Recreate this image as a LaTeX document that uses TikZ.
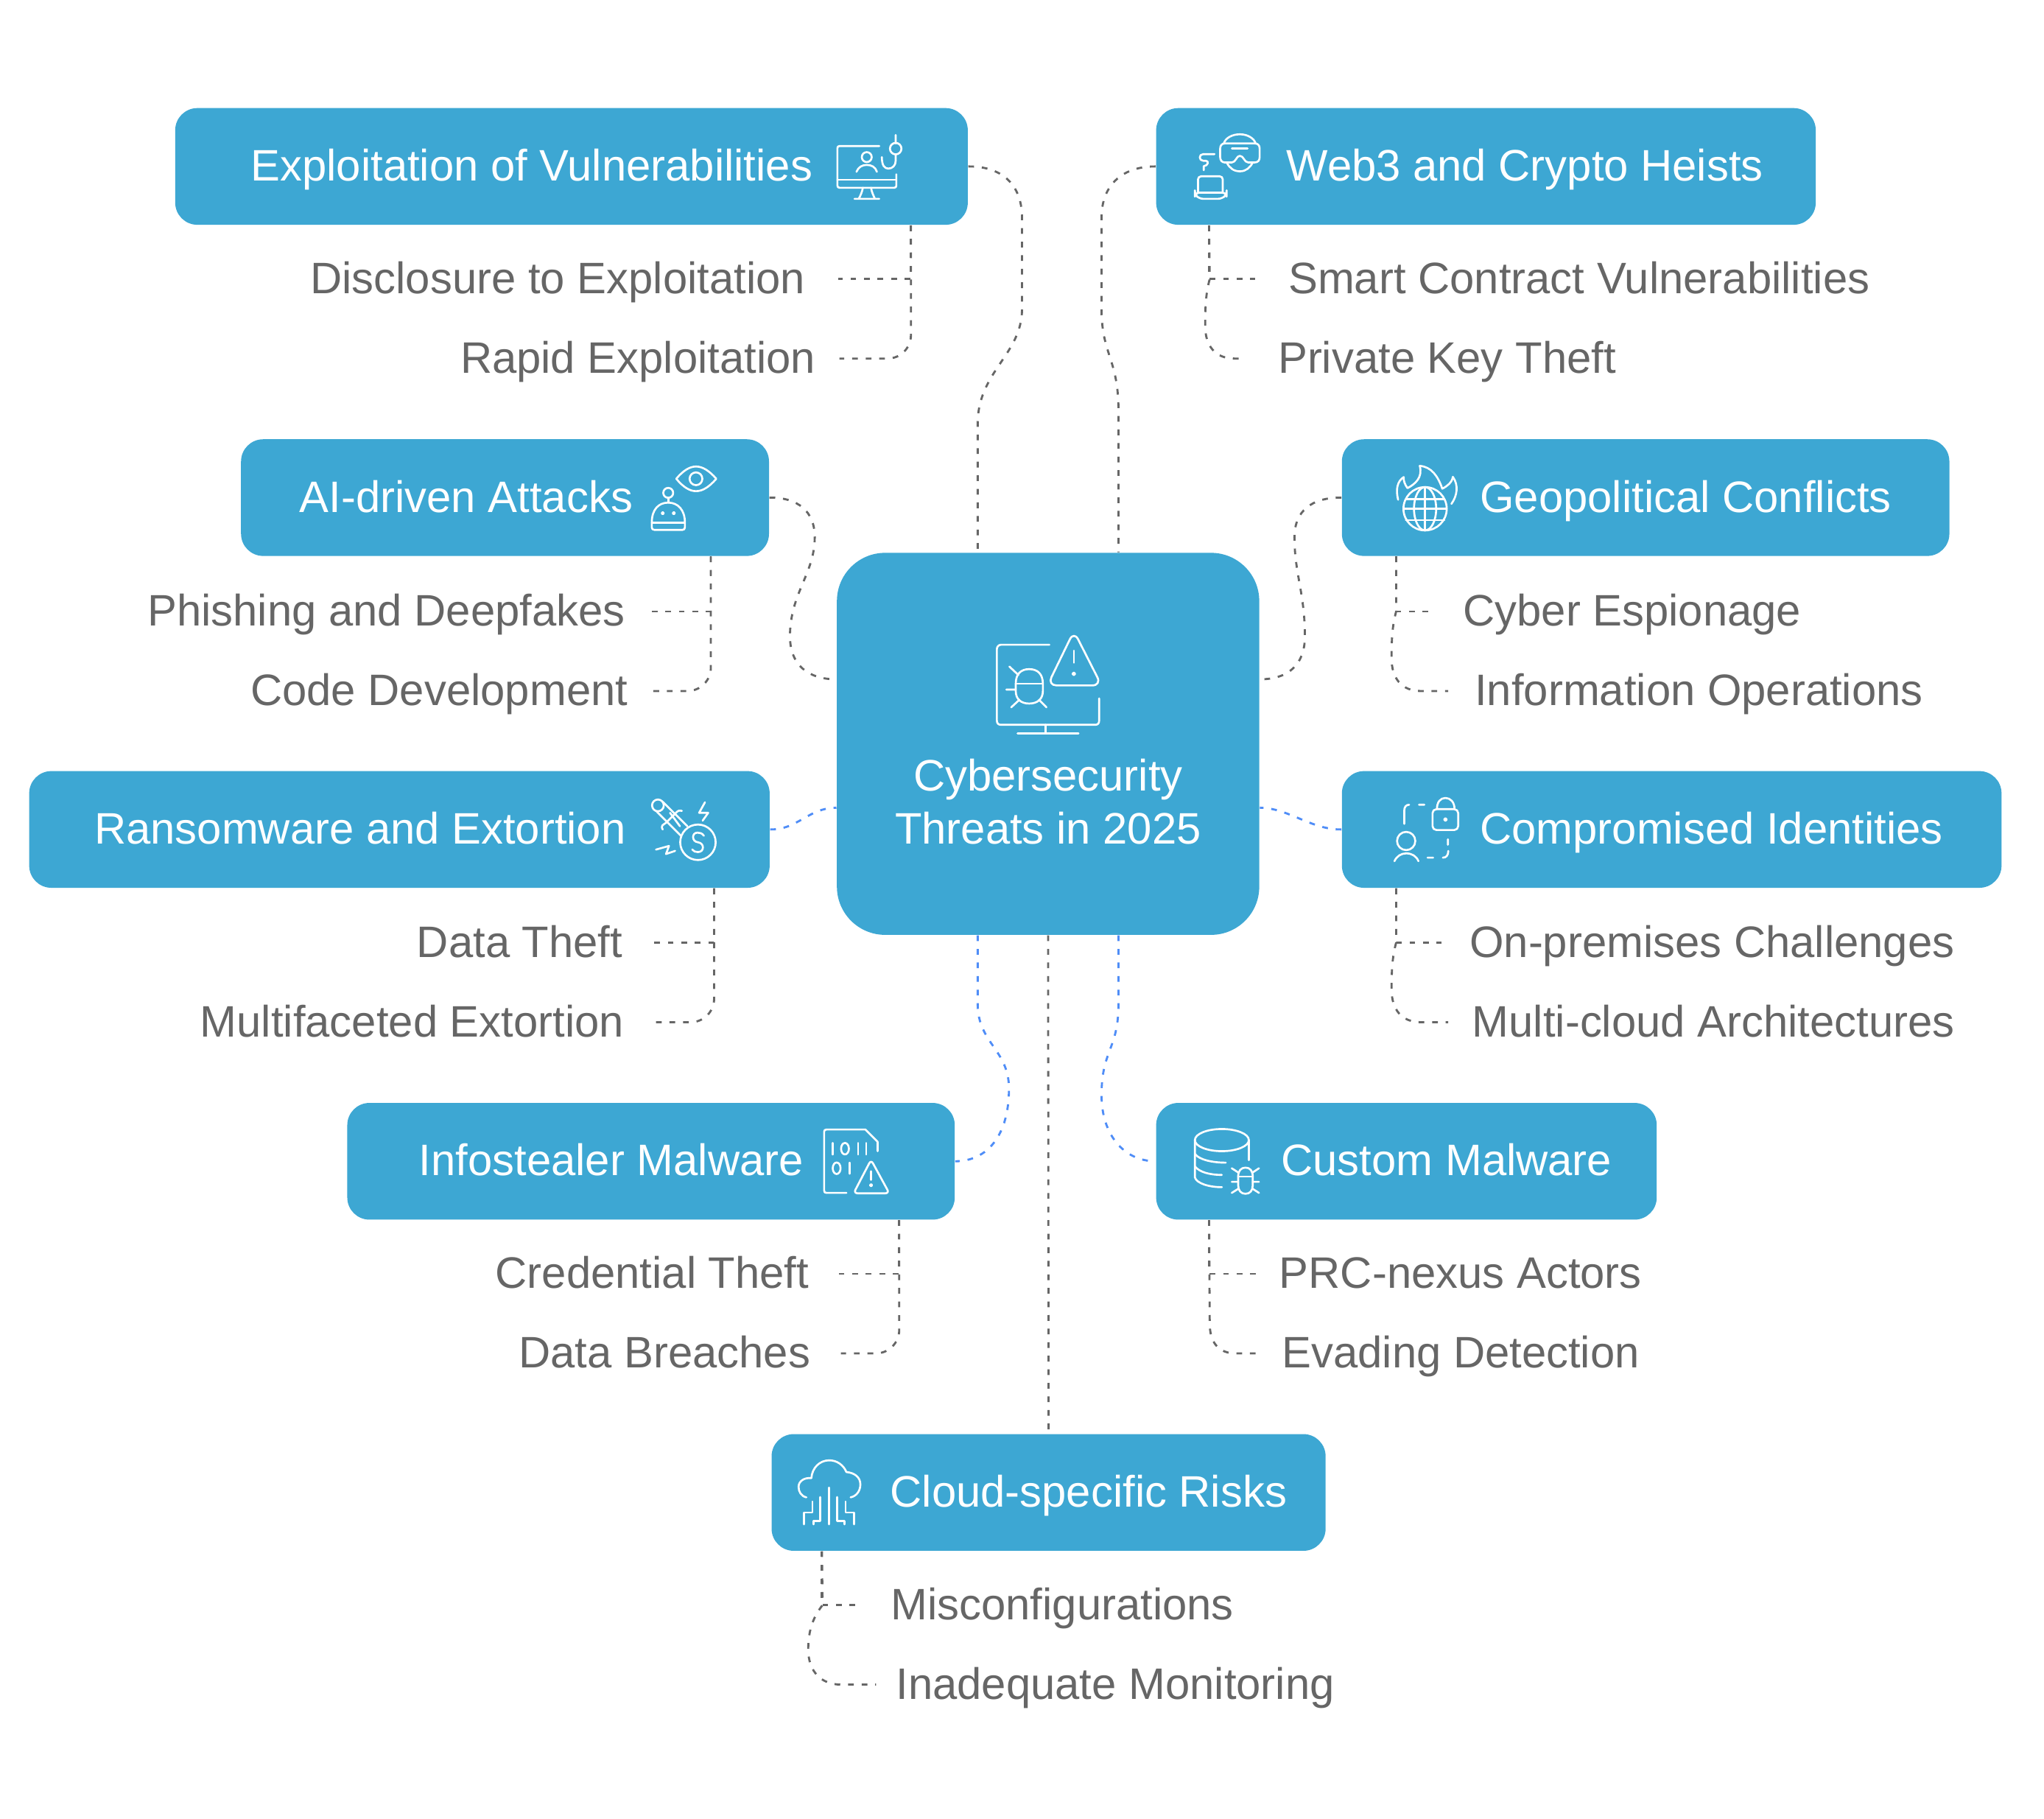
\documentclass[tikz,border=0pt]{standalone}
\usepackage{fontspec}
\usepackage{xcolor}
\setmainfont{Liberation Sans}
\definecolor{boxblue}{RGB}{61,167,211}
\definecolor{inkgray}{RGB}{102,102,102}
\definecolor{linkblue}{RGB}{79,141,247}

\begin{document}
\begin{tikzpicture}[
    x=0.5pt, y=-0.5pt,
    hub/.style={rectangle, fill=boxblue, text=white, rounded corners=18.5pt, minimum width=162pt, minimum height=146.5pt, inner sep=0pt, align=center, font=\fontsize{16.9}{20.5}\selectfont},
    topic/.style 2 args={rectangle, fill=boxblue, text=white, rounded corners=8.5pt, anchor=north west, minimum height=44.75pt, inner sep=0pt, align=left, text width=#1, text height=13.5pt, text depth=2.4pt, font=\fontsize{16.9}{20.5}\selectfont, execute at begin node={\spaceskip=0pt\xspaceskip=0pt\hspace*{#2}}},
    leaf/.style={text=inkgray, inner ysep=0pt, text height=13.5pt, text depth=2.4pt, font=\fontsize{16.9}{20.5}\selectfont},
    link/.style={draw=inkgray, line width=0.8pt, dash pattern=on 2.2pt off 3pt},
    blink/.style={link, draw=linkblue},
    icon/.style={draw=white, line width=0.75pt, line cap=round, line join=round}
]
\useasboundingbox (0,0) rectangle (1568,1395);

% Central box
\node[hub] (hub) at (804,570.5) {\mbox{}\\[36pt]Cybersecurity\\Threats in 2025};

% Topic boxes
\node[topic={304pt}{29pt}] (exploit) at (134,82.5) {Exploitation of Vulnerabilities};
\node[topic={253pt}{50pt}] (web3) at (886.5,82.5) {Web3 and Crypto Heists};
\node[topic={202.5pt}{22.5pt}] (aidriven) at (184.5,336.5) {AI-driven Attacks};
\node[topic={233pt}{53pt}] (geo) at (1029,336.5) {Geopolitical Conflicts};
\node[topic={284pt}{25pt}] (ransom) at (22,591) {Ransomware and Extortion};
\node[topic={253pt}{53pt}] (identity) at (1029,591) {Compromised Identities};
\node[topic={233pt}{27.5pt}] (infostealer) at (266,845.5) {Infostealer Malware};
\node[topic={192pt}{48pt}] (custom) at (886.5,845.5) {Custom Malware};
\node[topic={212.5pt}{45.5pt}] (cloud) at (591.5,1099.5) {Cloud-specific Risks};

% Leaves, left side
\node[leaf, anchor=east, inner xsep=12.5pt] (disclosure) at (643,214) {Disclosure to Exploitation};
\node[leaf, anchor=east, inner xsep=9pt] (rapid) at (644,275) {Rapid Exploitation};
\node[leaf, anchor=east, inner xsep=10pt] (phishing) at (500,469) {Phishing and Deepfakes};
\node[leaf, anchor=east, inner xsep=9.5pt] (codedev) at (501,530) {Code Development};
\node[leaf, anchor=east, inner xsep=11.5pt] (datatheft) at (501,723) {Data Theft};
\node[leaf, anchor=east, inner xsep=12pt] (multifaceted) at (503,784) {Multifaceted Extortion};
\node[leaf, anchor=east, inner xsep=11pt] (credential) at (643,977) {Credential Theft};
\node[leaf, anchor=east, inner xsep=11.5pt] (breaches) at (645,1038) {Data Breaches};

% Leaves, right side
\node[leaf, anchor=west, inner xsep=12.5pt] (smart) at (963,214) {Smart Contract Vulnerabilities};
\node[leaf, anchor=west, inner xsep=12pt] (privkey) at (956,275) {Private Key Theft};
\node[leaf, anchor=west, inner xsep=12.5pt] (espionage) at (1097,469) {Cyber Espionage};
\node[leaf, anchor=west, inner xsep=10pt] (infoops) at (1111,530) {Information Operations};
\node[leaf, anchor=west, inner xsep=10.5pt] (onprem) at (1106,723) {On-premises Challenges};
\node[leaf, anchor=west, inner xsep=9pt] (multicloud) at (1111,784) {Multi-cloud Architectures};
\node[leaf, anchor=west, inner xsep=8pt] (prc) at (965,977) {PRC-nexus Actors};
\node[leaf, anchor=west, inner xsep=9.5pt] (evading) at (964,1038) {Evading Detection};
\node[leaf, anchor=west, inner xsep=13pt] (misconfig) at (657,1231) {Misconfigurations};
\node[leaf, anchor=west, inner xsep=7.5pt] (monitoring) at (672,1292) {Inadequate Monitoring};

% Links from the central box
\draw[link] (exploit.east) .. controls (768,127.5) and (784,141) .. (784,167) -- (784,237) .. controls (784,272) and (750,285) .. (750,325) -- ([xshift=-27pt]hub.north);
\draw[link] (web3.west) .. controls (862,127.5) and (845,141) .. (845,167) -- (845,237) .. controls (845,272) and (858,275) .. (858,315) -- ([xshift=27pt]hub.north);
\draw[link] (aidriven.east) .. controls (612,381.5) and (625,392) .. (625,412) .. controls (625,440) and (606,455) .. (606,488) .. controls (606,510) and (620,521) .. ([yshift=24.75pt]hub.west);
\draw[link] (geo.west) .. controls (1006,381.5) and (993,392) .. (993,412) .. controls (993,440) and (1001,455) .. (1001,488) .. controls (1001,510) and (988,521) .. ([yshift=24.75pt]hub.east);
\draw[blink] (ransom.east) .. controls (612,636.5) and (620,619.5) .. ([yshift=-24.5pt]hub.west);
\draw[blink] (identity.west) .. controls (1006,636.5) and (988,619.5) .. ([yshift=-24.5pt]hub.east);
\draw[blink] ([xshift=-27pt]hub.south) -- (750,770) .. controls (750,800) and (774,805) .. (774,835) .. controls (774,870) and (758,890.5) .. (infostealer.east);
\draw[blink] ([xshift=27pt]hub.south) -- (858,770) .. controls (858,805) and (845,805) .. (845,840) .. controls (845,870) and (862,890.5) .. (custom.west);
\draw[link] (hub.south) -- (cloud.north);

% Links to the leaves, left side
\draw[link] ([xshift=-22pt]exploit.south east) |- (disclosure.east);
\draw[link, rounded corners=9pt] ([xshift=-22pt]exploit.south east) |- (rapid.east);
\draw[link] ([xshift=-22.5pt]aidriven.south east) |- (phishing.east);
\draw[link, rounded corners=9pt] ([xshift=-22.5pt]aidriven.south east) |- (codedev.east);
\draw[link] ([xshift=-21.5pt]ransom.south east) |- (datatheft.east);
\draw[link, rounded corners=9pt] ([xshift=-21.5pt]ransom.south east) |- (multifaceted.east);
\draw[link] ([xshift=-21.5pt]infostealer.south east) |- (credential.east);
\draw[link, rounded corners=9pt] ([xshift=-21.5pt]infostealer.south east) |- (breaches.east);

% Links to the leaves, right side
\draw[link] ([xshift=20.5pt]web3.south west) |- (smart.west);
\draw[link] ([xshift=20.5pt]web3.south west) -- (928,214) .. controls (925,225) and (924.5,235) .. (924.5,250) .. controls (924.5,265) and (932,275) .. (947,275) -- (privkey.west);
\draw[link] ([xshift=21pt]geo.south west) |- (espionage.west);
\draw[link] ([xshift=21pt]geo.south west) -- (1071,469) .. controls (1068,480) and (1067.5,490) .. (1067.5,505) .. controls (1067.5,520) and (1075,530) .. (1090,530) -- (infoops.west);
\draw[link] ([xshift=21pt]identity.south west) |- (onprem.west);
\draw[link] ([xshift=21pt]identity.south west) -- (1071,723) .. controls (1068,734) and (1067.5,744) .. (1067.5,759) .. controls (1067.5,774) and (1075,784) .. (1090,784) -- (multicloud.west);
\draw[link] ([xshift=20.5pt]custom.south west) |- (prc.west);
\draw[link] ([xshift=20.5pt]custom.south west) -- (928,1015) .. controls (928,1030) and (935,1038) .. (948,1038) -- (evading.west);
\draw[link] ([xshift=19.5pt]cloud.south west) |- (misconfig.west);
\draw[link] ([xshift=19.5pt]cloud.south west) -- (631,1231) .. controls (624,1240) and (620,1250) .. (620,1265) .. controls (620,1282) and (630,1292) .. (645,1292) -- (monitoring.west);

% Icon: central box
\draw[icon] (805,494.5) -- (768,494.5) .. controls (766,494.5) and (764.7,496) .. (764.7,498) -- (764.7,552.5) .. controls (764.7,555) and (766,555.9) .. (768,555.9) -- (840,555.9) .. controls (842,555.9) and (843.2,555) .. (843.2,552.5) -- (843.2,535.6);
\draw[icon] (802.2,555.9) -- (802.2,562.4) (780.6,562.4) -- (827.3,562.4);
\draw[icon, rounded corners=3.5pt] (823.8,484) -- (803.5,525.7) -- (845,525.7) -- cycle;
\draw[icon] (823.8,499) -- (823.8,508.3);
\draw[icon] (823.8,516.8) circle[radius=1];
\draw[icon] (779.2,524.4) .. controls (779.2,517) and (783,513.2) .. (789.5,513.2) .. controls (796,513.2) and (800,517) .. (800,524.4) -- (800,530) .. controls (800,536) and (796,539.6) .. (789.5,539.6) .. controls (783,539.6) and (779.2,536) .. (779.2,530) -- cycle;
\draw[icon] (779.2,524.4) -- (800,524.4);
\draw[icon] (774.3,511.2) -- (781.2,517.7) (772,528.9) -- (779.2,528.9) (775.7,542.5) -- (782,536.7) (802.8,542.5) -- (797,536.7);

% Icon: exploitation
\draw[icon] (674.5,112) -- (644,112) .. controls (643,112) and (642.4,112.6) .. (642.4,113.6) -- (642.4,142.4) .. controls (642.4,143.4) and (643,144) .. (644,144) -- (686,144) .. controls (687,144) and (687.6,143.4) .. (687.6,142.4) -- (687.6,133.7);
\draw[icon] (642.4,137.8) -- (687.6,137.8);
\draw[icon] (661.9,144) .. controls (661.5,147) and (660,150) .. (658.8,152.5) (668.2,144) .. controls (668.6,147) and (670,150) .. (671.2,152.5) (655.5,152.5) -- (674.5,152.5);
\draw[icon] (664.9,120.5) circle[radius=3.8];
\draw[icon] (657,131.8) .. controls (658.5,128) and (661.5,126.5) .. (664.9,126.5) .. controls (668.5,126.5) and (671.5,128) .. (672.7,131.8);
\draw[icon] (687.1,103.5) -- (687.1,110) (687.1,118.6) -- (687.1,123.3) .. controls (687.1,127) and (684.5,129.3) .. (681.5,129.3) .. controls (678.5,129.3) and (676.5,127) .. (676.5,120.5);
\draw[icon] (687.1,114) circle[radius=4.4];

% Icon: web3
\draw[icon, rounded corners=1.2pt] (919,147.8) -- (919,135.2) -- (938,135.2) -- (938,147.8);
\draw[icon, rounded corners=1.5pt] (916.6,147.8) -- (941,147.8) -- (941,149) -- (937.5,152.5) -- (920,152.5) -- (916.6,149) -- cycle;
\draw[icon] (931.7,118.2) -- (923,118.2) .. controls (919.5,118.2) and (919.5,123.3) .. (923,123.3) -- (925,123.3) .. controls (927.5,123.3) and (927,127) .. (923.4,127.5) -- (923.4,130.5);
\draw[icon] (938.8,110) .. controls (940,106) and (945,103) .. (951.1,103) .. controls (957,103) and (962,106) .. (963.2,110);
\draw[icon] (941,124.6) .. controls (943,128.5) and (946,131.4) .. (951.1,131.4) .. controls (956,131.4) and (959,128.5) .. (961,124.6);
\draw[icon] (939.5,110) -- (962.5,110) .. controls (965,110) and (966.3,111.5) .. (966.3,114) -- (966.3,120.5) .. controls (966.3,123) and (965,124.6) .. (962.5,124.6) -- (957.5,124.6) .. controls (954.5,124.6) and (954,119.5) .. (951.1,119.5) .. controls (948.5,119.5) and (948,124.6) .. (945,124.6) -- (939.5,124.6) .. controls (937.5,124.6) and (936,123) .. (936,120.5) -- (936,114) .. controls (936,111.5) and (937.5,110) .. (939.5,110) -- cycle;
\draw[icon] (945,114) -- (957,114);

% Icon: AI-driven
\draw[icon] (518.8,367.2) .. controls (524,361) and (529,357.8) .. (533.9,357.8) .. controls (539,357.8) and (544,361) .. (549.5,367.2) .. controls (544,373.5) and (539,376.7) .. (533.9,376.7) .. controls (529,376.7) and (524,373.5) .. (518.8,367.2) -- cycle;
\draw[icon] (533.9,367.2) circle[radius=4.9];
\draw[icon] (512.6,378) circle[radius=3.8];
\draw[icon] (512.6,381.9) -- (512.6,385.5);
\draw[icon] (500,400.8) .. controls (500,391) and (505,385.5) .. (512.6,385.5) .. controls (520,385.5) and (525.4,391) .. (525.4,400.8) -- (525.4,404.5) .. controls (525.4,405.7) and (524.7,406.4) .. (523.5,406.4) -- (502,406.4) .. controls (500.7,406.4) and (500,405.7) .. (500,404.5) -- cycle;
\draw[icon] (500,400.8) -- (525.4,400.8);
\draw[icon] (508.4,393.6) circle[radius=0.8] (516.9,393.6) circle[radius=0.8];

% Icon: geopolitical
\draw[icon] (1093.2,390.2) circle[radius=16.6];
\draw[icon] (1093.2,390.2) ellipse[x radius=8.5, y radius=16.6];
\draw[icon] (1093.2,373.6) -- (1093.2,406.8) (1078.4,382.7) -- (1108,382.7) (1076.6,390.2) -- (1109.8,390.2) (1078.4,398.9) -- (1108,398.9);
\draw[icon] (1072.5,383.3) .. controls (1070.5,375) and (1072,369) .. (1076.8,365.9) .. controls (1076.5,369) and (1078,372) .. (1079.7,374.4) .. controls (1086,371) and (1091.5,366) .. (1089.1,357.3) .. controls (1098,358) and (1103,365) .. (1106.4,374.8) .. controls (1110,373) and (1114,370) .. (1114.5,365.7) .. controls (1119,372) and (1118,380) .. (1113.4,386.5);

% Icon: ransomware
\draw[icon] (535.4,646) circle[radius=13.6];
\draw[icon] (540,641) .. controls (538.5,639) and (537,638.6) .. (535,638.6) .. controls (530.5,638.6) and (530.5,645.5) .. (535.4,646) .. controls (540.5,646.5) and (540.5,653.5) .. (535.4,653.5) .. controls (533.5,653.5) and (532,653) .. (531,651.5);
\draw[icon] (504.7,617.7) circle[radius=4.5];
\draw[icon] (508.4,614.9) -- (527.3,633.7) (503.7,622.4) -- (522.6,641.3);
\draw[icon] (508.4,636.2) .. controls (506.5,633) and (509,632.5) .. (511,631) -- (518,624) .. controls (520,621.5) and (521,621.5) .. (523.1,621.9);
\draw[icon] (514,623.4) -- (521.6,633.7);
\draw[icon] (540.8,615.3) -- (536.3,623.4) -- (543.3,623.4) -- (539,629.4);
\draw[icon] (503.2,651.6) -- (513.2,648.8) -- (510.9,655) -- (517.9,652.6);

% Icon: identities
\draw[icon] (1077.2,631.9) -- (1077.2,622) .. controls (1077.2,619) and (1078.5,617.2) .. (1081,617.2) (1088.5,617.2) -- (1092.7,617.2);
\draw[icon] (1110.7,643.7) -- (1110.7,647.9) (1111,652.6) .. controls (1111,656) and (1109.5,657.8) .. (1106.8,657.8) (1095.1,657.8) -- (1099.4,657.8);
\draw[icon, rounded corners=1.5pt] (1098.9,620.6) rectangle (1118.6,636.6);
\draw[icon] (1102.3,620.6) .. controls (1102.3,615) and (1105,612) .. (1108.8,612) .. controls (1112.5,612) and (1115.8,615) .. (1115.8,620.6);
\draw[icon] (1108.8,628.5) circle[radius=1];
\draw[icon] (1078.7,645) circle[radius=7];
\draw[icon] (1069.7,660.5) .. controls (1071.5,656.5) and (1075,654.5) .. (1078.7,654.5) .. controls (1083,654.5) and (1086.5,656.5) .. (1088.1,660.5);

% Icon: infostealer
\draw[icon] (649.3,914.9) -- (634,914.9) .. controls (632.8,914.9) and (632.2,914.3) .. (632.2,913) -- (632.2,868) .. controls (632.2,866.9) and (632.8,866.3) .. (634,866.3) -- (663.8,866.3) -- (673.2,875.7) -- (673.2,882.9);
\draw[icon] (638.8,876.6) -- (638.8,885.5) (658.2,876.6) -- (658.2,885.5) (664.4,876.6) -- (664.4,885.5) (651.6,891.7) -- (651.6,900.2);
\draw[icon] (648.2,881) ellipse[x radius=3, y radius=4.4];
\draw[icon] (641.8,896) ellipse[x radius=3, y radius=4.4];
\draw[icon, rounded corners=1.5pt] (668.2,889.5) -- (654.8,915.2) -- (682.2,915.2) -- cycle;
\draw[icon] (668.2,898.3) -- (668.2,904.9);
\draw[icon] (668.2,909) circle[radius=0.8];

% Icon: custom malware
\draw[icon] (937.3,874.4) ellipse[x radius=20.7, y radius=8.5];
\draw[icon] (916.6,874.4) -- (916.6,903) .. controls (918,907.5) and (927,910.5) .. (937.3,910.5);
\draw[icon] (958,874.4) -- (958,889.8);
\draw[icon] (916.6,885) .. controls (920,889.5) and (930,891.7) .. (940.3,891.7);
\draw[icon] (916.6,894.5) .. controls (920,899) and (928,901.1) .. (937.3,901.1);
\draw[icon] (949.8,902.4) .. controls (949.8,898) and (952,895.5) .. (955.4,895.5) .. controls (959,895.5) and (961,898) .. (961,902.4) -- (961,909) .. controls (961,913) and (959,915.6) .. (955.4,915.6) .. controls (952,915.6) and (949.8,913) .. (949.8,909) -- cycle;
\draw[icon] (949.8,902.4) -- (961,902.4);
\draw[icon] (944.9,896) -- (949.8,899.2) (965.8,896) -- (961,899.2) (944.9,906.4) -- (949.8,906.4) (965.8,906.4) -- (961,906.4) (944.9,914.9) -- (949.8,911.8) (965.8,914.9) -- (961,911.8);

% Icon: cloud
\draw[icon] (618.6,1148.4) .. controls (614.5,1147.5) and (612.6,1144) .. (612.6,1140.3) .. controls (612.6,1136) and (617,1133) .. (622.4,1133.7) .. controls (623,1125.5) and (629,1120) .. (636.1,1120) .. controls (642,1120) and (647,1123.5) .. (649.3,1129) .. controls (655.5,1129.5) and (660,1133) .. (660,1138.4) .. controls (660,1143.5) and (657,1147.5) .. (652.5,1148.4);
\draw[icon] (636.1,1140.9) -- (636.1,1169.1);
\draw[icon] (629,1148.2) -- (629,1166.7) -- (623.9,1166.7) -- (623.9,1169.1);
\draw[icon] (623.3,1151.6) -- (623.3,1160) -- (616.7,1160) -- (616.7,1169.1);
\draw[icon] (642.2,1148.2) -- (642.2,1166.7) -- (647.8,1166.7) -- (647.8,1169.1);
\draw[icon] (648.7,1151.6) -- (648.7,1160) -- (655.3,1160) -- (655.3,1169.1);

\end{tikzpicture}
\end{document}
